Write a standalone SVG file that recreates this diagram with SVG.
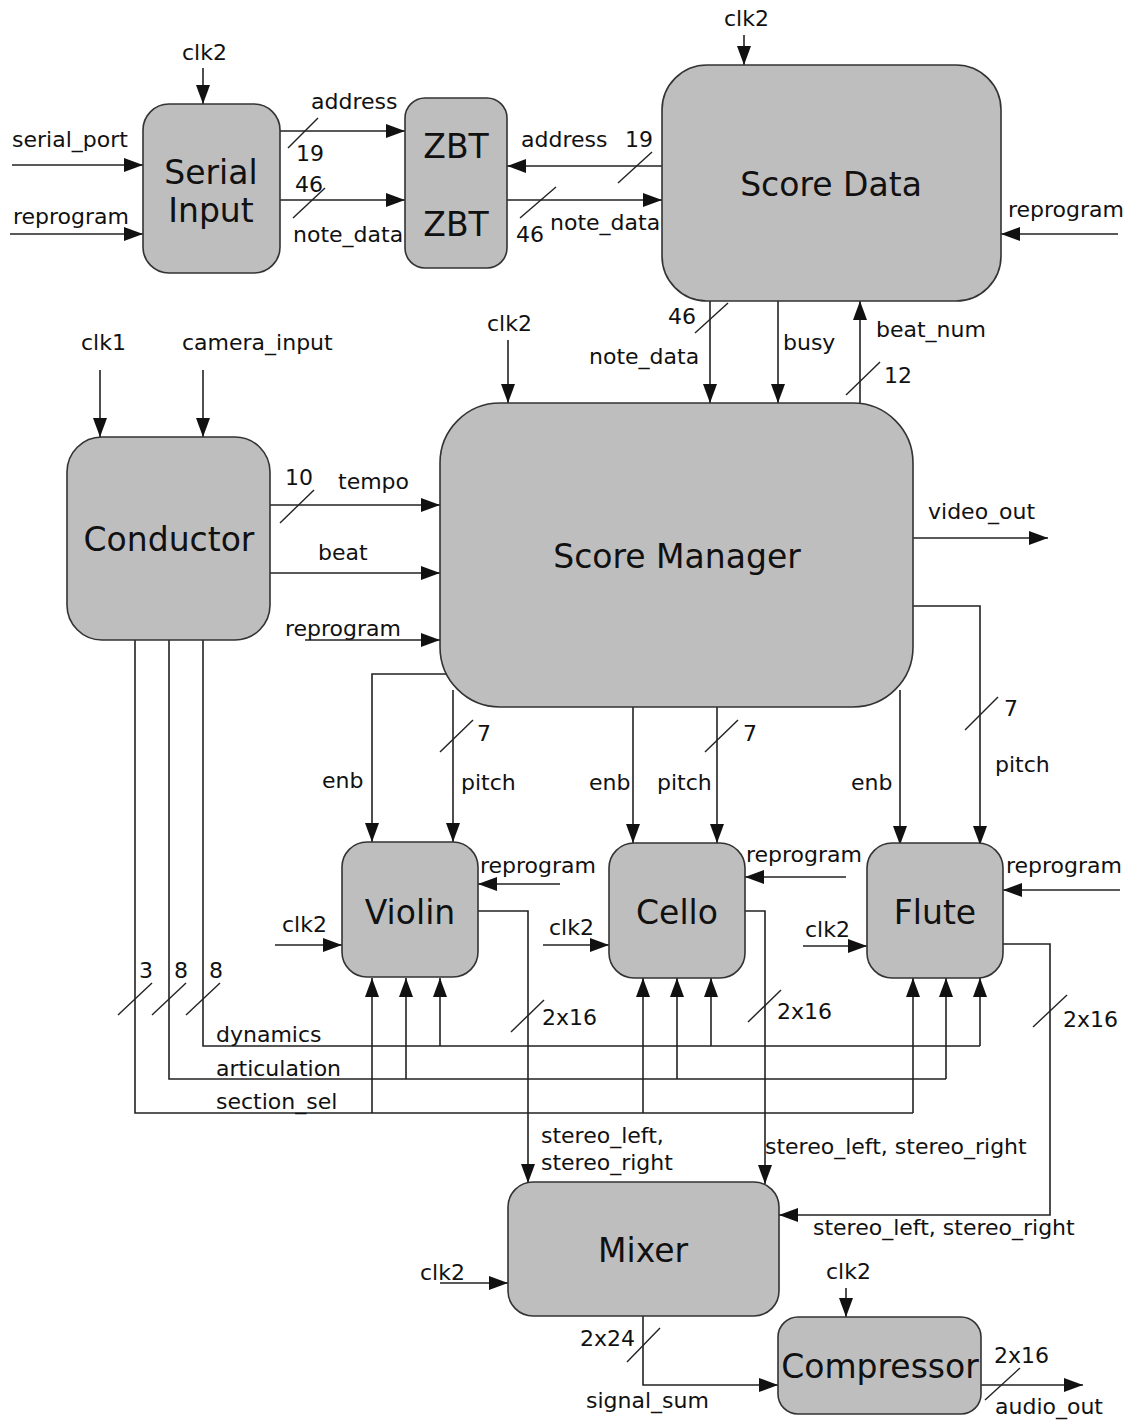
<svg xmlns="http://www.w3.org/2000/svg" width="1133" height="1420" viewBox="0 0 1133 1420">
<style>
.bg{fill:#ffffff}
.node{fill:#bebebe;stroke:#333333;stroke-width:1.6}
.w{fill:none;stroke:#222222;stroke-width:1.6}
.a{fill:none;stroke:#222222;stroke-width:1.6;marker-end:url(#ah)}
.s{fill:none;stroke:#222222;stroke-width:1.4}
.t{font-family:"DejaVu Sans","Liberation Sans",sans-serif;font-size:22px;fill:#111111}
.n{font-family:"DejaVu Sans","Liberation Sans",sans-serif;font-size:33px;fill:#111111;text-anchor:middle}
</style>
<defs>
<marker id="ah" markerUnits="userSpaceOnUse" markerWidth="20" markerHeight="14" refX="19" refY="7" orient="auto">
<path d="M0,0 L19,7 L0,14 z" fill="#111111"/>
</marker>
</defs>
<rect class="bg" x="0" y="0" width="1133" height="1420"/>

<g id="connectors">
<!-- Serial input -->
<path class="a" d="M203,68 V104"/>
<path class="a" d="M12,165 H143"/>
<path class="a" d="M10,234 H143"/>
<path class="a" d="M280,131 H405"/>
<path class="s" d="M288,148 L318,118"/>
<path class="a" d="M280,200 H405"/>
<path class="s" d="M293,218 L325,188"/>
<!-- Score data -->
<path class="a" d="M744,35 V65"/>
<path class="a" d="M662,166 H507"/>
<path class="s" d="M618,183 L652,152"/>
<path class="a" d="M507,200 H662"/>
<path class="s" d="M520,218 L556,187"/>
<path class="a" d="M1118,234 H1001"/>
<path class="a" d="M710,301 V403"/>
<path class="s" d="M695,333 L728,303"/>
<path class="a" d="M778,301 V403"/>
<path class="a" d="M860,403 V301"/>
<path class="s" d="M846,395 L880,362"/>
<!-- Score manager -->
<path class="a" d="M508,340 V403"/>
<path class="a" d="M100,370 V437"/>
<path class="a" d="M203,370 V437"/>
<path class="a" d="M270,505 H440"/>
<path class="s" d="M280,523 L314,490"/>
<path class="a" d="M270,573 H440"/>
<path class="a" d="M305,640 H440"/>
<path class="a" d="M913,538 H1048"/>
<!-- to instruments -->
<path class="a" d="M450,674 H372 V842"/>
<path class="a" d="M453,690 V842"/>
<path class="s" d="M440,752 L473,720"/>
<path class="a" d="M633,700 V843"/>
<path class="a" d="M717,700 V843"/>
<path class="s" d="M705,752 L738,720"/>
<path class="a" d="M900,690 V845"/>
<path class="a" d="M905,606 H980 V845"/>
<path class="s" d="M965,730 L998,697"/>
<path class="a" d="M560,884 H478"/>
<path class="a" d="M846,877 H745"/>
<path class="a" d="M1120,890 H1003"/>
<path class="a" d="M275,945 H342"/>
<path class="a" d="M543,945 H609"/>
<path class="a" d="M803,946 H867"/>
<!-- conductor buses -->
<path class="w" d="M135,640 V1113 H913"/>
<path class="w" d="M169,640 V1079 H946"/>
<path class="w" d="M203,640 V1046 H980"/>
<path class="s" d="M118,1015 L152,983"/>
<path class="s" d="M152,1015 L186,983"/>
<path class="s" d="M186,1015 L220,983"/>
<path class="a" d="M372,1113 V978"/>
<path class="a" d="M406,1079 V978"/>
<path class="a" d="M440,1046 V978"/>
<path class="a" d="M643,1113 V978"/>
<path class="a" d="M677,1079 V978"/>
<path class="a" d="M711,1046 V978"/>
<path class="a" d="M913,1113 V978"/>
<path class="a" d="M946,1079 V978"/>
<path class="a" d="M980,1046 V978"/>
<!-- instrument outputs -->
<path class="a" d="M478,911 H528 V1183"/>
<path class="s" d="M511,1032 L544,1000"/>
<path class="a" d="M745,911 H765 V1184"/>
<path class="s" d="M748,1022 L781,990"/>
<path class="a" d="M1003,944 H1050 V1215 H779"/>
<path class="s" d="M1033,1027 L1067,995"/>
<!-- mixer / compressor -->
<path class="a" d="M440,1283 H508"/>
<path class="a" d="M643,1316 V1385 H778"/>
<path class="s" d="M627,1362 L660,1328"/>
<path class="a" d="M846,1288 V1317"/>
<path class="a" d="M981,1385 H1083"/>
<path class="s" d="M985,1400 L1020,1368"/>
</g>

<g id="serial_input">
<rect class="node" x="143" y="104" width="137" height="169" rx="26"/>
<text class="n" x="211" y="184">Serial</text>
<text class="n" x="211" y="222">Input</text>
</g>
<g id="zbt">
<rect class="node" x="405" y="98" width="102" height="170" rx="20"/>
<text class="n" x="456" y="158">ZBT</text>
<text class="n" x="456" y="236">ZBT</text>
</g>
<g id="score_data">
<rect class="node" x="662" y="65" width="339" height="236" rx="45"/>
<text class="n" x="831" y="196">Score Data</text>
</g>
<g id="conductor">
<rect class="node" x="67" y="437" width="203" height="203" rx="35"/>
<text class="n" x="169" y="551">Conductor</text>
</g>
<g id="score_manager">
<rect class="node" x="440" y="403" width="473" height="304" rx="60"/>
<text class="n" x="677" y="568">Score Manager</text>
</g>
<g id="violin">
<rect class="node" x="342" y="842" width="136" height="135" rx="25"/>
<text class="n" x="410" y="924">Violin</text>
</g>
<g id="cello">
<rect class="node" x="609" y="843" width="136" height="135" rx="25"/>
<text class="n" x="677" y="924">Cello</text>
</g>
<g id="flute">
<rect class="node" x="867" y="843" width="136" height="135" rx="25"/>
<text class="n" x="935" y="924">Flute</text>
</g>
<g id="mixer">
<rect class="node" x="508" y="1182" width="271" height="134" rx="25"/>
<text class="n" x="643" y="1262">Mixer</text>
</g>
<g id="compressor">
<rect class="node" x="778" y="1317" width="203" height="97" rx="20"/>
<text class="n" x="880" y="1378">Compressor</text>
</g>

<g id="labels">
<text class="t" x="182" y="60">clk2</text>
<text class="t" x="12" y="147">serial_port</text>
<text class="t" x="13" y="224">reprogram</text>
<text class="t" x="311" y="109">address</text>
<text class="t" x="296" y="161">19</text>
<text class="t" x="295" y="192">46</text>
<text class="t" x="293" y="242">note_data</text>
<text class="t" x="724" y="26">clk2</text>
<text class="t" x="521" y="147">address</text>
<text class="t" x="625" y="147">19</text>
<text class="t" x="550" y="230">note_data</text>
<text class="t" x="516" y="242">46</text>
<text class="t" x="1008" y="217">reprogram</text>
<text class="t" x="668" y="324">46</text>
<text class="t" x="589" y="364">note_data</text>
<text class="t" x="783" y="350">busy</text>
<text class="t" x="876" y="337">beat_num</text>
<text class="t" x="884" y="383">12</text>
<text class="t" x="487" y="331">clk2</text>
<text class="t" x="81" y="350">clk1</text>
<text class="t" x="182" y="350">camera_input</text>
<text class="t" x="285" y="485">10</text>
<text class="t" x="338" y="489">tempo</text>
<text class="t" x="318" y="560">beat</text>
<text class="t" x="285" y="636">reprogram</text>
<text class="t" x="928" y="519">video_out</text>
<text class="t" x="322" y="788">enb</text>
<text class="t" x="477" y="741">7</text>
<text class="t" x="461" y="790">pitch</text>
<text class="t" x="589" y="790">enb</text>
<text class="t" x="743" y="741">7</text>
<text class="t" x="657" y="790">pitch</text>
<text class="t" x="851" y="790">enb</text>
<text class="t" x="1004" y="716">7</text>
<text class="t" x="995" y="772">pitch</text>
<text class="t" x="480" y="873">reprogram</text>
<text class="t" x="746" y="862">reprogram</text>
<text class="t" x="1006" y="873">reprogram</text>
<text class="t" x="282" y="932">clk2</text>
<text class="t" x="549" y="935">clk2</text>
<text class="t" x="805" y="937">clk2</text>
<text class="t" x="139" y="978">3</text>
<text class="t" x="174" y="978">8</text>
<text class="t" x="209" y="978">8</text>
<text class="t" x="542" y="1025">2x16</text>
<text class="t" x="777" y="1019">2x16</text>
<text class="t" x="1063" y="1027">2x16</text>
<text class="t" x="216" y="1042">dynamics</text>
<text class="t" x="216" y="1076">articulation</text>
<text class="t" x="216" y="1109">section_sel</text>
<text class="t" x="541" y="1143">stereo_left,</text>
<text class="t" x="541" y="1170">stereo_right</text>
<text class="t" x="765" y="1154">stereo_left, stereo_right</text>
<text class="t" x="813" y="1235">stereo_left, stereo_right</text>
<text class="t" x="420" y="1280">clk2</text>
<text class="t" x="826" y="1279">clk2</text>
<text class="t" x="580" y="1346">2x24</text>
<text class="t" x="994" y="1363">2x16</text>
<text class="t" x="586" y="1408">signal_sum</text>
<text class="t" x="995" y="1414">audio_out</text>
</g>
</svg>
